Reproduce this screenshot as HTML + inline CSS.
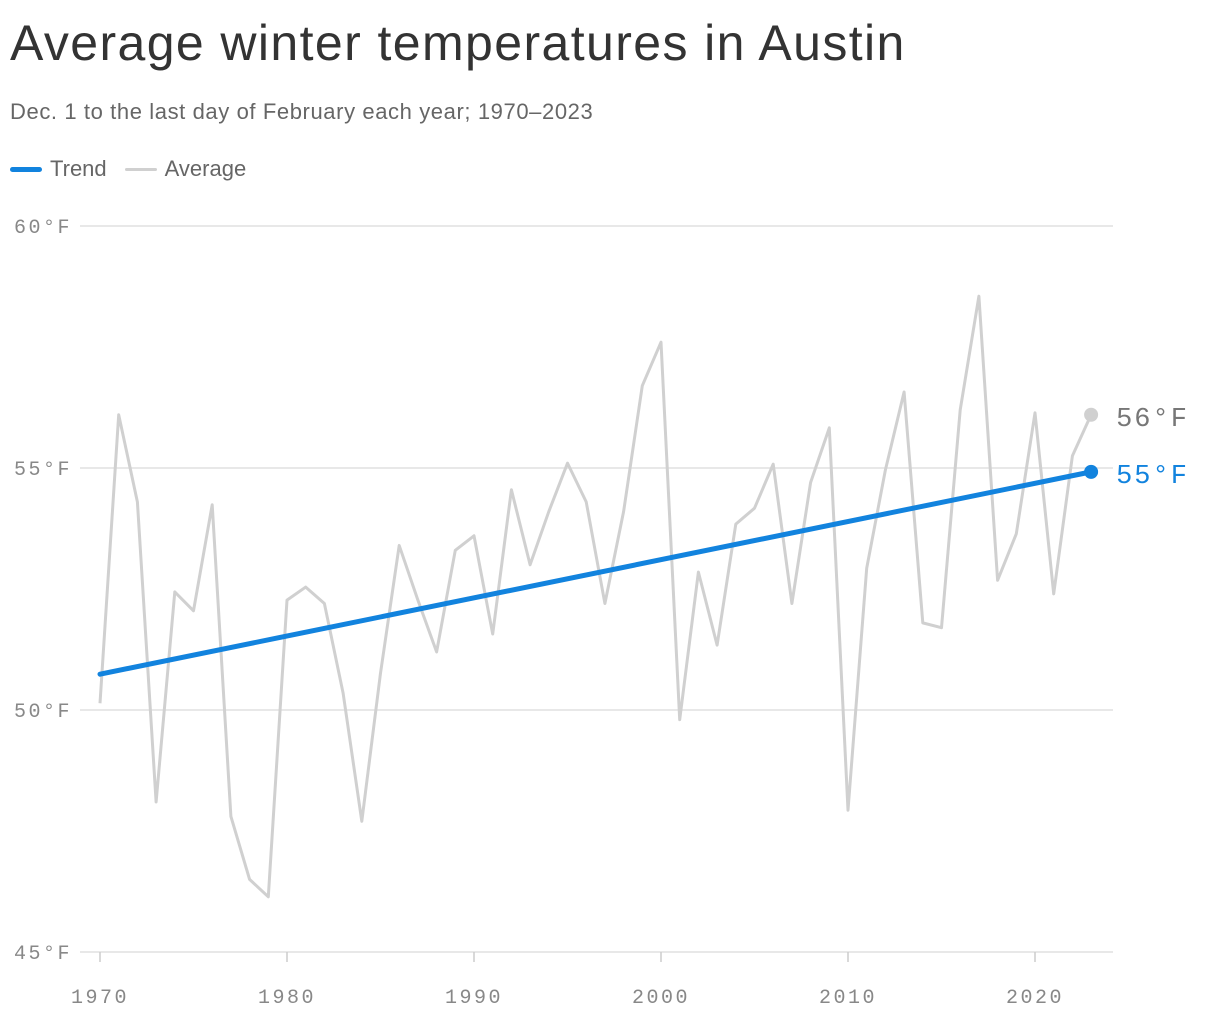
<!DOCTYPE html>
<html><head><meta charset="utf-8"><style>
body{margin:0;background:#fff;width:1220px;height:1020px;overflow:hidden;font-family:"Liberation Sans",sans-serif}
#title{position:absolute;left:10px;top:14px;font-size:50px;color:#333;letter-spacing:1.4px}
#sub{position:absolute;left:10px;top:99px;font-size:22px;color:#666;letter-spacing:0.6px}
#legend{position:absolute;left:10px;top:156px;font-size:22px;color:#666;display:flex;align-items:center}
.sw{display:inline-block;width:32px;height:5px;border-radius:3px;margin-right:8px}
svg{position:absolute;left:0;top:0}
</style></head><body>
<div id="title">Average winter temperatures in Austin</div>
<div id="sub">Dec. 1 to the last day of February each year; 1970–2023</div>
<div id="legend">
<span style="display:flex;align-items:center"><span class="sw" style="background:#1283de"></span>Trend</span>
<span style="display:flex;align-items:center;margin-left:18px"><span class="sw" style="background:#d0d0d0;height:3px"></span>Average</span>
</div>
<svg id="chart" width="1220" height="1020"></svg>
<script>
const years=[];for(let y=1970;y<=2023;y++)years.push(y);
const avgTemps=[50.14,56.1,54.3,48.1,52.44,52.05,54.24,47.8,46.5,46.14,52.27,52.54,52.2,50.35,47.7,50.76,53.4,52.27,51.2,53.3,53.6,51.57,54.55,53,54.1,55.1,54.3,52.2,54.1,56.7,57.6,49.8,52.85,51.34,53.84,54.17,55.08,52.2,54.7,55.83,47.93,52.93,54.96,56.57,51.8,51.7,56.2,58.55,52.68,53.64,56.14,52.4,55.25,56.1];
const trendYears=[1970,2023];
const trendTemps=[50.74,54.92];
const yTicks=[45,50,55,60];
const xTicks=[1970,1980,1990,2000,2010,2020];
const endLabels=["56°F","55°F"];
const X=y=>100+(y-1970)*18.7;
const Y=t=>952-(t-45)*48.4;
const svg=document.getElementById('chart');const NS='http://www.w3.org/2000/svg';
function mk(tag,attrs,name){const e=document.createElementNS(NS,tag);for(const k in attrs)e.setAttribute(k,attrs[k]);


svg.appendChild(e);return e;}
const mono='"Liberation Mono",monospace';
yTicks.forEach(t=>{mk('line',{x1:80,x2:1113,y1:Y(t),y2:Y(t),stroke:'#e0e0e0','stroke-width':1.5},'gridline');
const tx=mk('text',{x:14,y:Y(t)+7,'font-family':mono,'font-size':20,'letter-spacing':2.5,fill:'#888'},'y-tick-label');tx.textContent=t+'°F';});
xTicks.forEach(t=>{mk('line',{x1:X(t),x2:X(t),y1:952,y2:962,stroke:'#ccc','stroke-width':1.5},'x-tick');
const tx=mk('text',{x:X(t),y:1003,'text-anchor':'middle','font-family':mono,'font-size':20,'letter-spacing':2.5,fill:'#888'},'x-tick-label');tx.textContent=t;});
mk('polyline',{points:years.map((y,i)=>X(y)+','+Y(avgTemps[i])).join(' '),fill:'none',stroke:'#d0d0d0','stroke-width':3,'stroke-linejoin':'round'},'average-line');
mk('polyline',{points:trendYears.map((y,i)=>X(y)+','+Y(trendTemps[i])).join(' '),fill:'none',stroke:'#1283de','stroke-width':5,'stroke-linecap':'round'},'trend-line');
const la=avgTemps[avgTemps.length-1],lt=trendTemps[trendTemps.length-1],lx=X(2023);
mk('circle',{cx:lx,cy:Y(la),r:7,fill:'#d0d0d0'},'average-end-point');
mk('circle',{cx:lx,cy:Y(lt),r:7,fill:'#1283de'},'trend-end-point');
let t1=mk('text',{x:lx+25,y:Y(la)+11,'font-family':mono,'font-size':27,'letter-spacing':2,fill:'#777'},'average-end-label');t1.textContent=endLabels[0];
let t2=mk('text',{x:lx+25,y:Y(lt)+11,'font-family':mono,'font-size':27,'letter-spacing':2,fill:'#1283de'},'trend-end-label');t2.textContent=endLabels[1];
</script>
</body></html>
